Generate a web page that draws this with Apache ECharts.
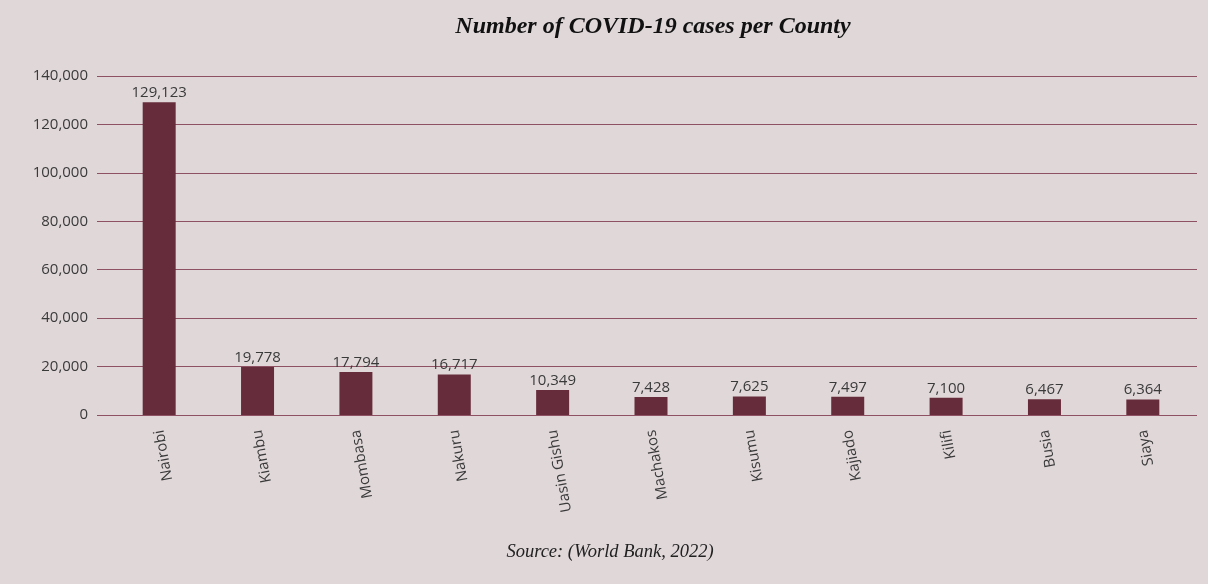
<!DOCTYPE html>
<html>
<head>
<meta charset="utf-8">
<script src="https://cdn.jsdelivr.net/npm/echarts@6/dist/echarts.min.js"></script>
<style>
  html, body { margin: 0; padding: 0; background: #e0d7d9; }
  #chart { width: 1208px; height: 584px; }
</style>
</head>
<body>
<div id="chart"></div>
<script>
// COVID-19 cases by county (World Bank, 2022)
const counties = ['Nairobi', 'Kiambu', 'Mombasa', 'Nakuru', 'Uasin Gishu', 'Machakos',
  'Kisumu', 'Kajiado', 'Kilifi', 'Busia', 'Siaya'];
const cases = [129123, 19778, 17794, 16717, 10349, 7428, 7625, 7497, 7100, 6467, 6364];
const yTicks = [0, 20000, 40000, 60000, 80000, 100000, 120000, 140000];

const yMin = yTicks[0];
const yMax = yTicks[yTicks.length - 1];
const yStep = yTicks[1] - yTicks[0];
const fmt = v => v.toLocaleString('en-US');

const textColor = '#3a3a3a';
const lineColor = '#8d5163';
const barColor = '#672c3b';

const chart = echarts.init(document.getElementById('chart'));
chart.setOption({
  backgroundColor: '#e0d7d9',
  animation: false,
  title: [
    {
      text: 'Number of COVID-19 cases per County',
      left: 648, top: 10, textAlign: 'center',
      textStyle: { fontFamily: 'Liberation Serif', fontStyle: 'italic', fontWeight: 'bold',
        fontSize: 24, color: '#111' }
    },
    {
      text: 'Source: (World Bank, 2022)',
      left: 605, top: 538, textAlign: 'center',
      textStyle: { fontFamily: 'Liberation Serif', fontStyle: 'italic', fontWeight: 'normal',
        fontSize: 18.5, color: '#222' }
    }
  ],
  grid: [
    // gridlines and value labels
    { left: 97, right: 11, top: 76, bottom: 169 },
    // bars and county labels
    { left: 110, right: 16, top: 76, bottom: 169 }
  ],
  xAxis: [
    { gridIndex: 0, type: 'value', show: false, min: 0, max: 1 },
    {
      gridIndex: 1, type: 'category', data: counties,
      axisLine: { show: false }, axisTick: { show: false },
      axisLabel: { rotate: 100, margin: 15, fontFamily: 'Open Sans', fontSize: 15, color: textColor }
    }
  ],
  yAxis: [
    {
      gridIndex: 0, type: 'value', min: yMin, max: yMax, interval: yStep,
      axisLine: { show: false }, axisTick: { show: false },
      axisLabel: { margin: 9, fontFamily: 'Open Sans', fontSize: 15, color: textColor, formatter: fmt },
      splitLine: { lineStyle: { color: lineColor, width: 1 } }
    },
    {
      gridIndex: 1, type: 'value', min: yMin, max: yMax, interval: yStep,
      show: false, splitLine: { show: false }
    }
  ],
  series: [{
    type: 'bar',
    xAxisIndex: 1, yAxisIndex: 1,
    data: cases,
    barWidth: 33,
    itemStyle: { color: barColor },
    label: {
      show: true, position: 'top', distance: 2,
      fontFamily: 'Open Sans', fontSize: 15, color: textColor,
      formatter: p => fmt(p.value)
    }
  }]
});
</script>
</body>
</html>
